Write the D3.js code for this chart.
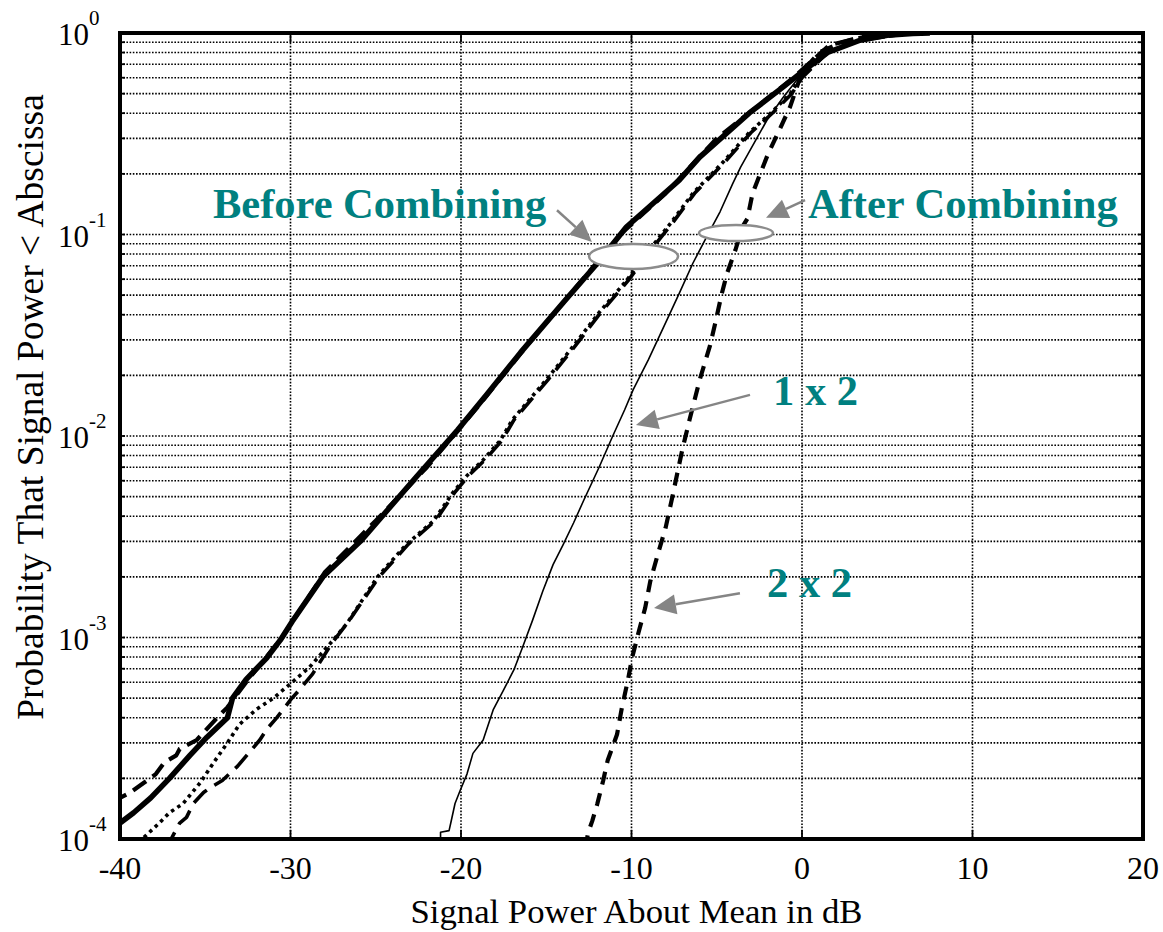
<!DOCTYPE html>
<html>
<head>
<meta charset="utf-8">
<script src="https://cdn.jsdelivr.net/npm/d3@7"></script>
<style>
  html, body { margin: 0; padding: 0; background: #fff; }
  svg { display: block; }
  text { font-family: "Liberation Serif", "Times New Roman", serif; }
</style>
</head>
<body>
<svg id="chart" width="1163" height="932"></svg>
<script>
// ---- Axis ticks ----
const xTicks = [-40, -30, -20, -10, 0, 10, 20];
const yExponents = [0, -1, -2, -3, -4];

// ---- Empirical CDFs: signal power (dB about mean) vs. probability ----
// Before combining, branch 1 (thick solid)
const branch1Db = [-40.5, -40, -39.2, -38.2, -37.1, -35.9, -34.9, -33.7, -33.4, -32.6, -31.4, -30.6, -29.9, -28.1, -25.9, -24.0, -22.6, -20.2, -18.5, -16.5, -14.0, -12.0, -10.3, -7.2, -6.0, -3.1, -1.1, -0.1, 1.5, 3.4, 5.0, 6.5, 7.5];
const branch1P  = [1.1e-4, 1.2e-4, 1.35e-4, 1.6e-4, 2.0e-4, 2.6e-4, 3.2e-4, 4.0e-4, 5.0e-4, 6.2e-4, 7.9e-4, 9.7e-4, 1.2e-3, 2.0e-3, 3.0e-3, 4.6e-3, 6.3e-3, 1.07e-2, 1.6e-2, 2.6e-2, 4.6e-2, 7.2e-2, 0.109, 0.186, 0.242, 0.40, 0.54, 0.63, 0.80, 0.92, 0.975, 0.995, 1.0];

// Before combining, branch 2 (thick dashed)
const branch2Db = [-40.5, -40, -39.4, -38.6, -37.9, -37.4, -36.7, -36.5, -35.5, -34.3, -33.7, -32.6, -30.5, -28.0, -25.0, -22.0, -19.0, -16.0, -13.0, -10.5, -8.0, -5.0, -2.5, -0.5, 1.6, 3.5, 5.5, 7.0];
const branch2P  = [1.55e-4, 1.6e-4, 1.7e-4, 1.9e-4, 2.1e-4, 2.4e-4, 2.6e-4, 2.8e-4, 3.1e-4, 4.0e-4, 4.5e-4, 6.0e-4, 1.0e-3, 2.1e-3, 3.8e-3, 7.0e-3, 1.4e-2, 2.9e-2, 5.8e-2, 0.103, 0.16, 0.30, 0.44, 0.60, 0.87, 0.95, 0.99, 1.0];

// Before combining, branch 3 (dotted)
const branch3Db = [-39.2, -38.7, -37.7, -37.1, -36.3, -35.3, -34.5, -33.7, -33.0, -32.0, -31.0, -30.0, -28.9, -27.5, -26.7, -24.9, -23.2, -21.6, -20.5, -19.7, -18.7, -17.7, -17.0, -15.0, -13.4, -11.9, -10.3, -9.1, -7.7, -6.4, -4.6, -3.1, -1.7, -0.7, -0.1, 1.5, 3.4, 6.0, 7.5];
const branch3P  = [9.0e-5, 1.0e-4, 1.2e-4, 1.35e-4, 1.5e-4, 1.9e-4, 2.4e-4, 3.0e-4, 3.7e-4, 4.4e-4, 5.0e-4, 5.9e-4, 7.1e-4, 9.7e-4, 1.17e-3, 2.0e-3, 2.9e-3, 3.8e-3, 5.2e-3, 6.3e-3, 7.6e-3, 9.5e-3, 1.2e-2, 1.9e-2, 2.8e-2, 4.1e-2, 5.9e-2, 8.1e-2, 0.114, 0.16, 0.23, 0.32, 0.41, 0.50, 0.60, 0.80, 0.92, 0.99, 1.0];

// Before combining, branch 4 (long dashed)
const branch4Db = [-37.3, -37.0, -36.5, -36.1, -35.7, -35.1, -34.7, -34.0, -33.1, -32.4, -31.8, -31.4, -30.8, -30.0, -29.4, -28.7, -27.6, -26.6, -24.8, -23.1, -21.5, -20.4, -19.6, -18.6, -17.6, -16.9, -14.9, -13.3, -11.8, -10.2, -9.0, -7.6, -6.3, -4.5, -3.0, -1.6, -0.6, 0.0, 1.5, 3.4, 6.0, 7.5];
const branch4P  = [9.0e-5, 1.0e-4, 1.2e-4, 1.28e-4, 1.5e-4, 1.7e-4, 1.8e-4, 1.95e-4, 2.3e-4, 2.7e-4, 3.1e-4, 3.5e-4, 4.0e-4, 4.9e-4, 5.6e-4, 6.6e-4, 9.3e-4, 1.2e-3, 2.0e-3, 2.9e-3, 3.8e-3, 5.2e-3, 6.3e-3, 7.6e-3, 9.5e-3, 1.2e-2, 1.9e-2, 2.8e-2, 4.1e-2, 5.9e-2, 8.1e-2, 0.114, 0.16, 0.23, 0.32, 0.41, 0.50, 0.60, 0.80, 0.92, 0.99, 1.0];

// After combining, 1 x 2 (thin solid)
const combined12Db = [-21.2, -21.2, -20.7, -20.6, -20.35, -20.05, -19.65, -19.3, -18.7, -18.1, -17.5, -16.9, -16.4, -15.8, -15.2, -14.6, -14.0, -13.4, -12.8, -11.9, -11.1, -10.4, -9.9, -9.0, -7.9, -7.2, -6.4, -5.6, -4.8, -4.05, -3.6, -2.05, -1.1, 0.0, 1.5, 3.0, 5.0, 6.5];
const combined12P  = [9.0e-5, 1.08e-4, 1.1e-4, 1.2e-4, 1.5e-4, 1.74e-4, 2.1e-4, 2.66e-4, 3.1e-4, 4.4e-4, 5.5e-4, 6.9e-4, 8.9e-4, 1.22e-3, 1.7e-3, 2.3e-3, 2.9e-3, 3.7e-3, 4.8e-3, 7.0e-3, 1.0e-2, 1.35e-2, 1.7e-2, 2.4e-2, 3.8e-2, 5.1e-2, 7.2e-2, 9.7e-2, 0.13, 0.18, 0.216, 0.37, 0.48, 0.63, 0.80, 0.91, 0.98, 1.0];

// After combining, 2 x 2 (thick dashed)
const combined22Db = [-12.7, -12.55, -12.3, -12.0, -11.66, -11.4, -10.85, -10.56, -10.2, -9.97, -9.6, -9.2, -8.9, -8.45, -8.0, -7.6, -7.27, -7.0, -6.6, -6.0, -5.4, -5.1, -4.7, -4.4, -3.9, -3.5, -3.2, -2.9, -2.6, -2.0, -1.4, -0.7, 0.0, 1.0, 2.2, 3.5, 5.0, 6.5];
const combined22P  = [9.0e-5, 1.07e-4, 1.23e-4, 1.5e-4, 1.95e-4, 2.45e-4, 3.3e-4, 4.5e-4, 6.2e-4, 7.9e-4, 1.05e-3, 1.4e-3, 1.9e-3, 2.6e-3, 3.5e-3, 5.0e-3, 6.8e-3, 8.7e-3, 1.2e-2, 1.9e-2, 2.8e-2, 3.6e-2, 5.1e-2, 6.4e-2, 8.4e-2, 0.109, 0.12, 0.16, 0.186, 0.25, 0.32, 0.43, 0.64, 0.80, 0.89, 0.96, 0.99, 1.0];

// Annotation texts
const labelTexts = ["Before Combining", "After Combining", "1 x 2", "2 x 2"];

// ---- Layout ----
const svg = d3.select("#chart");
const plotLeft = 120, plotRight = 1143, plotTop = 33, plotBottom = 839;

const x = d3.scaleLinear().domain([-40, 20]).range([plotLeft, plotRight]);
const y = d3.scaleLog().domain([1e-4, 1]).range([plotBottom, plotTop]);

const defs = svg.append("defs");
defs.append("clipPath").attr("id", "plotClip")
  .append("rect").attr("x", plotLeft).attr("y", plotTop)
  .attr("width", plotRight - plotLeft).attr("height", plotBottom - plotTop);
defs.append("filter").attr("id", "soft")
  .append("feGaussianBlur").attr("stdDeviation", 0.6);

// ---- Grid ----
const grid = svg.append("g");
const minorY = [];
for (let e = -4; e < 0; e++) for (let m = 1; m < 10; m++) minorY.push(m * Math.pow(10, e));
minorY.push(1);

grid.selectAll("line.h").data(minorY).join("line")
  .attr("class", "h")
  .attr("x1", plotLeft).attr("x2", plotRight)
  .attr("y1", d => y(d)).attr("y2", d => y(d))
  .attr("stroke", "#000").attr("stroke-width", 1.6)
  .attr("stroke-dasharray", "1.6,1.6");

grid.selectAll("line.v").data(xTicks.slice(1, -1)).join("line")
  .attr("class", "v")
  .attr("y1", plotTop).attr("y2", plotBottom)
  .attr("x1", d => x(d)).attr("x2", d => x(d))
  .attr("stroke", "#000").attr("stroke-width", 1.6)
  .attr("stroke-dasharray", "1.6,1.6");

// Tick marks inside the frame
const ticks = svg.append("g").attr("stroke", "#000").attr("stroke-width", 1.8);
xTicks.forEach(v => {
  ticks.append("line").attr("x1", x(v)).attr("x2", x(v)).attr("y1", plotBottom).attr("y2", plotBottom - 9);
  ticks.append("line").attr("x1", x(v)).attr("x2", x(v)).attr("y1", plotTop).attr("y2", plotTop + 9);
});
minorY.forEach(v => {
  ticks.append("line").attr("x1", plotLeft).attr("x2", plotLeft + 5).attr("y1", y(v)).attr("y2", y(v));
  ticks.append("line").attr("x1", plotRight).attr("x2", plotRight - 5).attr("y1", y(v)).attr("y2", y(v));
});

// ---- Curves ----
const line = d3.line().x(d => x(d[0])).y(d => y(d[1]));
const zip = (a, b) => a.map((v, i) => [v, b[i]]);

const curves = [
  { db: branch4Db, p: branch4P, w: 3.6, dash: "18,9", soft: false },
  { db: branch3Db, p: branch3P, w: 3.6, dash: "3.5,4", soft: false },
  { db: branch1Db, p: branch1P, w: 5.5, dash: null, soft: true },
  { db: branch2Db, p: branch2P, w: 4.2, dash: "16,8", soft: false },
  { db: combined12Db, p: combined12P, w: 1.6, dash: null, soft: false },
  { db: combined22Db, p: combined22P, w: 4.2, dash: "13,9", soft: false }
];

const curveG = svg.append("g").attr("clip-path", "url(#plotClip)");
curves.forEach(c => {
  curveG.append("path")
    .datum(zip(c.db, c.p))
    .attr("d", line)
    .attr("fill", "none")
    .attr("stroke", "#000")
    .attr("stroke-width", c.w)
    .attr("stroke-linejoin", "round")
    .attr("stroke-dasharray", c.dash)
    .attr("filter", c.soft ? "url(#soft)" : null);
});

// ---- Annotations: ellipses grouping curves at the 10% level ----
const ellipses = [
  { db: -9.88, p: 0.0778, rx: 44.5, ry: 12.5 },
  { db: -3.87, p: 0.1017, rx: 37, ry: 8 }
];
svg.append("g").selectAll("ellipse").data(ellipses).join("ellipse")
  .attr("cx", d => x(d.db)).attr("cy", d => y(d.p))
  .attr("rx", d => d.rx).attr("ry", d => d.ry)
  .attr("fill", "#fff").attr("stroke", "#8c8c8c").attr("stroke-width", 2.5);

// Arrows (from label toward curve)
const arrows = [
  { from: [-14.37, 0.132], to: [-12.32, 0.0918] },
  { from: [0.18, 0.148], to: [-2.11, 0.121] },
  { from: [-3.05, 0.0160], to: [-9.74, 0.01134] },
  { from: [-3.64, 1.66e-3], to: [-8.68, 1.40e-3] }
];
const arrowG = svg.append("g");
arrows.forEach(a => {
  const x1 = x(a.from[0]), y1 = y(a.from[1]);
  const x2 = x(a.to[0]), y2 = y(a.to[1]);
  const ang = Math.atan2(y2 - y1, x2 - x1);
  const L = 22, H = 10;
  const bx = x2 - L * Math.cos(ang), by = y2 - L * Math.sin(ang);
  arrowG.append("line").attr("x1", x1).attr("y1", y1).attr("x2", bx).attr("y2", by)
    .attr("stroke", "#858585").attr("stroke-width", 2.5);
  const px = -Math.sin(ang), py = Math.cos(ang);
  arrowG.append("polygon")
    .attr("points", [[x2, y2], [bx + H * px, by + H * py], [bx - H * px, by - H * py]].map(p => p.join(",")).join(" "))
    .attr("fill", "#858585");
});

// Labels
const labels = [
  { text: labelTexts[0], db: -34.55, p: Math.pow(10, -0.918) },
  { text: labelTexts[1], db: 0.35, p: Math.pow(10, -0.918) },
  { text: labelTexts[2], db: -1.7, p: Math.pow(10, -1.846) },
  { text: labelTexts[3], db: -2.05, p: Math.pow(10, -2.799) }
];
svg.append("g").selectAll("text").data(labels).join("text")
  .attr("x", d => x(d.db)).attr("y", d => y(d.p))
  .attr("fill", "#008080")
  .attr("font-weight", "bold")
  .attr("font-size", 42.5)
  .text(d => d.text);

// ---- Frame ----
svg.append("rect")
  .attr("x", plotLeft).attr("y", plotTop)
  .attr("width", plotRight - plotLeft).attr("height", plotBottom - plotTop)
  .attr("fill", "none").attr("stroke", "#000").attr("stroke-width", 4);

// ---- Tick labels ----
svg.append("g").selectAll("text").data(xTicks).join("text")
  .attr("x", d => x(d)).attr("y", plotBottom + 40)
  .attr("text-anchor", "middle").attr("font-size", 32)
  .text(d => d);

const yl = svg.append("g").selectAll("text").data(yExponents).join("text")
  .attr("x", 58).attr("y", d => y(Math.pow(10, d)) + 12)
  .attr("font-size", 31);
yl.append("tspan").text("10");
yl.append("tspan").attr("dy", -20).attr("font-size", 21).text(d => String(d));

// ---- Axis titles ----
svg.append("text")
  .attr("x", (plotLeft + plotRight) / 2 + 5).attr("y", 923)
  .attr("text-anchor", "middle").attr("font-size", 34.7)
  .text("Signal Power About Mean in dB");

svg.append("text")
  .attr("transform", "translate(43,407) rotate(-90)")
  .attr("text-anchor", "middle").attr("font-size", 37.5)
  .text("Probability That Signal Power < Abscissa");
</script>
</body>
</html>
